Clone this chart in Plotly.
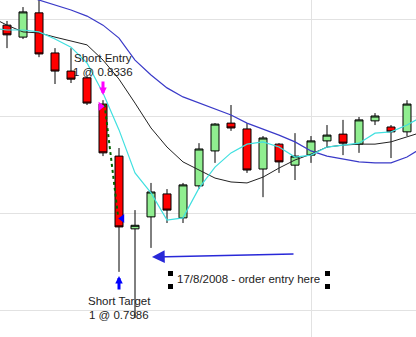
import plotly.graph_objects as go

# ---- data ----
idx = list(range(26))
opens  = [0.8581, 0.8544, 0.8619, 0.8495, 0.8439, 0.8418, 0.8337, 0.8176, 0.7951, 0.7988,
          0.8059, 0.7985, 0.8084, 0.8192, 0.8278, 0.8260, 0.8136, 0.8213, 0.8148, 0.8179,
          0.8223, 0.8244, 0.8213, 0.8285, 0.8266, 0.8251]
highs  = [0.8594, 0.8637, 0.8668, 0.8510, 0.8510, 0.8424, 0.8349, 0.8201, 0.8009, 0.8093,
          0.8074, 0.8093, 0.8216, 0.8278, 0.8334, 0.8278, 0.8238, 0.8216, 0.8247, 0.8238,
          0.8272, 0.8288, 0.8297, 0.8309, 0.8272, 0.8349]
lows   = [0.8510, 0.8538, 0.8482, 0.8399, 0.8402, 0.8334, 0.8176, 0.7818, 0.7675, 0.7892,
          0.7969, 0.7969, 0.8074, 0.8155, 0.8254, 0.8124, 0.8049, 0.8124, 0.8102, 0.8155,
          0.8201, 0.8179, 0.8186, 0.8272, 0.8170, 0.8238]
closes = [0.8551, 0.8622, 0.8492, 0.8439, 0.8414, 0.8340, 0.8186, 0.7957, 0.7962, 0.8065,
          0.8009, 0.8087, 0.8198, 0.8275, 0.8263, 0.8133, 0.8232, 0.8158, 0.8176, 0.8223,
          0.8241, 0.8216, 0.8288, 0.8300, 0.8251, 0.8337]

ma_idx = list(range(-1, 27))
ma_fast = [0.8572, 0.8566, 0.8566, 0.8560, 0.8538, 0.8513, 0.8464, 0.8371, 0.8257, 0.8124,
           0.8062, 0.7978, 0.7985, 0.8077, 0.8142, 0.8186, 0.8213, 0.8220, 0.8204, 0.8173,
           0.8179, 0.8204, 0.8210, 0.8216, 0.8247, 0.8251, 0.8272, 0.8300]
ma_mid  = [0.8606, 0.8581, 0.8560, 0.8557, 0.8544, 0.8532, 0.8520, 0.8473, 0.8414, 0.8340,
           0.8263, 0.8204, 0.8158, 0.8133, 0.8108, 0.8096, 0.8093, 0.8111, 0.8139, 0.8164,
           0.8182, 0.8204, 0.8210, 0.8213, 0.8213, 0.8220, 0.8235, 0.8251]
ma_slow = [0.8696, 0.8687, 0.8674, 0.8659, 0.8643, 0.8628, 0.8609, 0.8581, 0.8541, 0.8473,
           0.8427, 0.8387, 0.8359, 0.8340, 0.8322, 0.8303, 0.8278, 0.8260, 0.8241, 0.8220,
           0.8192, 0.8176, 0.8167, 0.8158, 0.8155, 0.8155, 0.8173, 0.8204]

entry_bar, entry_price = 6, 0.8336
exit_bar, exit_price = 7, 0.7986
grid_prices = [0.77, 0.80, 0.83, 0.86]

fig = go.Figure()
fig.add_trace(go.Candlestick(
    x=idx, open=opens, high=highs, low=lows, close=closes,
    increasing=dict(fillcolor="#90EE90", line=dict(color="#000000", width=1)),
    decreasing=dict(fillcolor="#FF0000", line=dict(color="#000000", width=1)),
    whiskerwidth=0, showlegend=False, hoverinfo="skip"))

fig.add_trace(go.Scatter(x=ma_idx, y=ma_slow, mode="lines",
                         line=dict(color="#3a3ac8", width=1.2), showlegend=False, hoverinfo="skip"))
fig.add_trace(go.Scatter(x=ma_idx, y=ma_mid, mode="lines",
                         line=dict(color="#222222", width=1), showlegend=False, hoverinfo="skip"))
fig.add_trace(go.Scatter(x=ma_idx, y=ma_fast, mode="lines",
                         line=dict(color="#40E0E0", width=1.2), showlegend=False, hoverinfo="skip"))

# trade line
fig.add_trace(go.Scatter(x=[entry_bar + 0.1, exit_bar - 0.05], y=[entry_price, exit_price],
                         mode="lines", line=dict(color="#006400", width=2, dash="dot"),
                         showlegend=False, hoverinfo="skip"))
# entry / exit markers
fig.add_trace(go.Scatter(x=[entry_bar - 0.15], y=[entry_price - 0.0006], mode="markers",
                         marker=dict(symbol="triangle-right", size=8, color="#ff00ff"),
                         showlegend=False, hoverinfo="skip"))
fig.add_trace(go.Scatter(x=[exit_bar + 0.2], y=[exit_price - 0.0003], mode="markers",
                         marker=dict(symbol="triangle-left", size=8, color="#0000ff"),
                         showlegend=False, hoverinfo="skip"))

font = dict(family="Liberation Sans, Arial, sans-serif", size=11.5, color="#222222")
anns = [
    dict(x=6.0, y=0.8480, text="Short Entry", showarrow=False, font=font, borderpad=0),
    dict(x=6.0, y=0.8436, text="1 @ 0.8336", showarrow=False, font=font, borderpad=0),
    dict(x=7.0, y=0.7728, text="Short Target", showarrow=False, font=font, borderpad=0),
    dict(x=7.0, y=0.7684, text="1 @ 0.7986", showarrow=False, font=font, borderpad=0),
    dict(x=15.1, y=0.7796, text="17/8/2008 - order entry here", showarrow=False, font=font),
    # magenta down arrow
    dict(x=6.0, y=0.8365, ax=0, ay=-15, text="", showarrow=True, arrowhead=2,
         arrowsize=0.5, arrowwidth=3, arrowcolor="#ff00ff"),
    # blue up arrow
    dict(x=7.0, y=0.7805, ax=0, ay=15, text="", showarrow=True, arrowhead=2,
         arrowsize=0.5, arrowwidth=3, arrowcolor="#0000ff"),
    # long blue arrow
    dict(x=9.06, y=0.7864, ax=18.0, ay=0.7873, axref="x", ayref="y", text="",
         showarrow=True, arrowhead=2, arrowsize=1.7, arrowwidth=1.5, arrowcolor="#2828d8"),
]

shapes = []
for px, py in [(168, 271), (168, 284), (325, 271), (325, 284)]:
    shapes.append(dict(type="rect", xref="paper", yref="paper",
                       x0=px / 416, x1=(px + 5) / 416,
                       y0=1 - (py + 5) / 337, y1=1 - py / 337,
                       fillcolor="#000000", line=dict(width=0)))

fig.update_layout(
    width=416, height=337, margin=dict(l=0, r=0, t=0, b=0),
    paper_bgcolor="white", plot_bgcolor="white",
    boxgap=0.5, boxgroupgap=0, showlegend=False,
    annotations=anns, shapes=shapes,
    xaxis=dict(range=[-0.4375, 25.5625], rangeslider=dict(visible=False),
               showgrid=True, gridcolor="#e2e2e2", gridwidth=1, tickvals=[19.06],
               showticklabels=False, zeroline=False, showline=False, ticks=""),
    yaxis=dict(range=[0.76165, 0.86588], showgrid=True, gridcolor="#e2e2e2", gridwidth=1,
               tickvals=grid_prices, showticklabels=False, zeroline=False, showline=False,
               ticks=""),
)

fig.write_html("out.html")
